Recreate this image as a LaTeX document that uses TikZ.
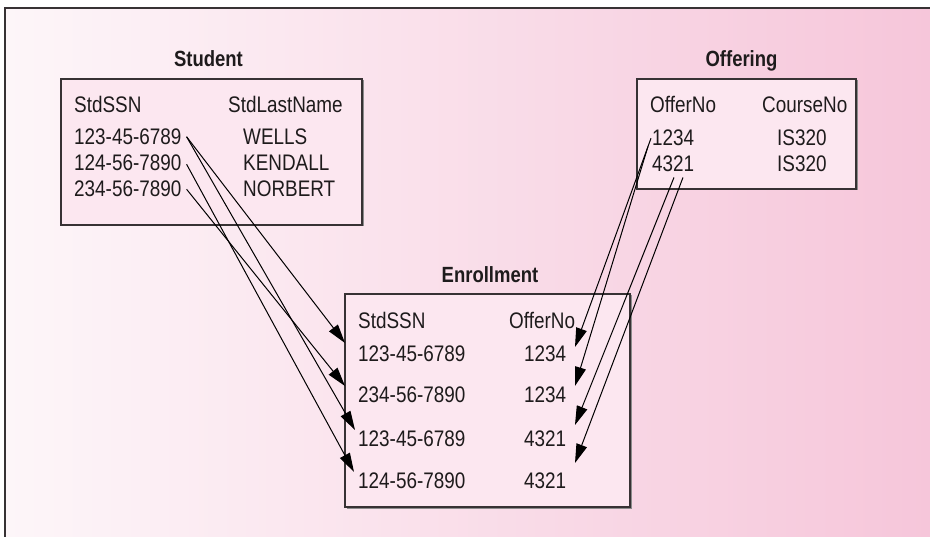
\documentclass[tikz,border=0pt]{standalone}
\usepackage{fontspec}
\setmainfont{Liberation Sans}[FakeStretch=0.84]
\usetikzlibrary{arrows.meta}

\definecolor{bgleft}{RGB}{253,246,249}
\definecolor{bgright}{RGB}{246,198,218}
\definecolor{tablefill}{RGB}{252,231,240}
\definecolor{ink}{RGB}{30,27,28}
\definecolor{edge}{RGB}{55,50,52}

\tikzset{
  tablebox/.style={draw=edge, fill=tablefill, line width=1.2pt},
  shadowbox/.style={fill=black!45},
  cell/.style={anchor=base west, inner sep=0pt, text=ink, font=\fontsize{22.5}{24}\selectfont},
  title/.style={anchor=base, inner sep=0pt, text=ink, font=\fontsize{22}{24}\selectfont\bfseries},
  link/.style={draw=black, line width=1pt, -{Triangle[length=19pt,width=11pt]}},
  frame/.style={draw=edge, line width=1.3pt}
}

\begin{document}
\begin{tikzpicture}[x=1pt, y=-1pt]
\useasboundingbox (0,0) rectangle (930,537);

% backdrop with a soft horizontal pink gradient
\shade[left color=bgleft, right color=bgright] (5,8) rectangle (930,537);
\draw[frame] (930,8) -- (5,8) -- (5,537);

% ---- Student table ----
\fill[shadowbox] (62.5,80.5) rectangle (363.5,226.5);
\draw[tablebox] (61,79) rectangle (362,225);
\node[title] (stitle) at (208.5,67) {Student};
\node[cell] (sh1) at (74,113) {StdSSN};
\node[cell] (sh2) at (228,113) {StdLastName};
\node[cell] (s1) at (74,145) {123-45-6789};
\node[cell] (s2) at (74,171) {124-56-7890};
\node[cell] (s3) at (74,197) {234-56-7890};
\node[cell] (n1) at (243,145) {WELLS};
\node[cell] (n2) at (243,171) {KENDALL};
\node[cell] (n3) at (243,197) {NORBERT};

% ---- Offering table ----
\fill[shadowbox] (638.5,80.5) rectangle (857.5,190.5);
\draw[tablebox] (637,79) rectangle (856,189);
\node[title] (otitle) at (741.5,67) {Offering};
\node[cell] (oh1) at (650,113) {OfferNo};
\node[cell] (oh2) at (762,113) {CourseNo};
\node[cell] (o1) at (652,146) {1234};
\node[cell] (o2) at (652,172) {4321};
\node[cell] (c1) at (777,146) {IS320};
\node[cell] (c2) at (777,172) {IS320};

% ---- Enrollment table ----
\fill[shadowbox] (346.5,295.5) rectangle (631.5,508.5);
\draw[tablebox] (345,294) rectangle (630,507);
\node[title] (etitle) at (490,283) {Enrollment};
\node[cell] (eh1) at (358,329) {StdSSN};
\node[cell] (eh2) at (509,329) {OfferNo};
\node[cell] (e1) at (358,362) {123-45-6789};
\node[cell] (e2) at (358,403) {234-56-7890};
\node[cell] (e3) at (358,447) {123-45-6789};
\node[cell] (e4) at (358,489) {124-56-7890};
\node[cell] (f1) at (524,362) {1234};
\node[cell] (f2) at (524,403) {1234};
\node[cell] (f3) at (524,447) {4321};
\node[cell] (f4) at (524,489) {4321};

% arrow tips on the Enrollment rows
\coordinate (inS1) at (345,343);
\coordinate (inS2) at (345,386);
\coordinate (inS3) at (355,430);
\coordinate (inS4) at (354,472);
\coordinate (inO1) at (575,347);
\coordinate (inO2) at (575,386);
\coordinate (inO3) at (575,425);
\coordinate (inO4) at (575,463);

% foreign key references: StdSSN
\draw[link] ([shift={(5,-0.5)}]s1.east) -- (inS1);
\draw[link] ([shift={(5,-0.5)}]s1.east) -- (inS3);
\draw[link] ([shift={(5,1)}]s2.east) -- (inS4);
\draw[link] ([shift={(5,0)}]s3.east) -- (inS2);

% foreign key references: OfferNo
\draw[link] ([shift={(-1,0)}]o1.west) -- (inO1);
\draw[link] ([shift={(-4,0)}]o1.south west) -- (inO2);
\draw[link] ([shift={(22,5)}]o2.south west) -- (inO3);
\draw[link] ([shift={(31,5)}]o2.south west) -- (inO4);
\end{tikzpicture}
\end{document}
